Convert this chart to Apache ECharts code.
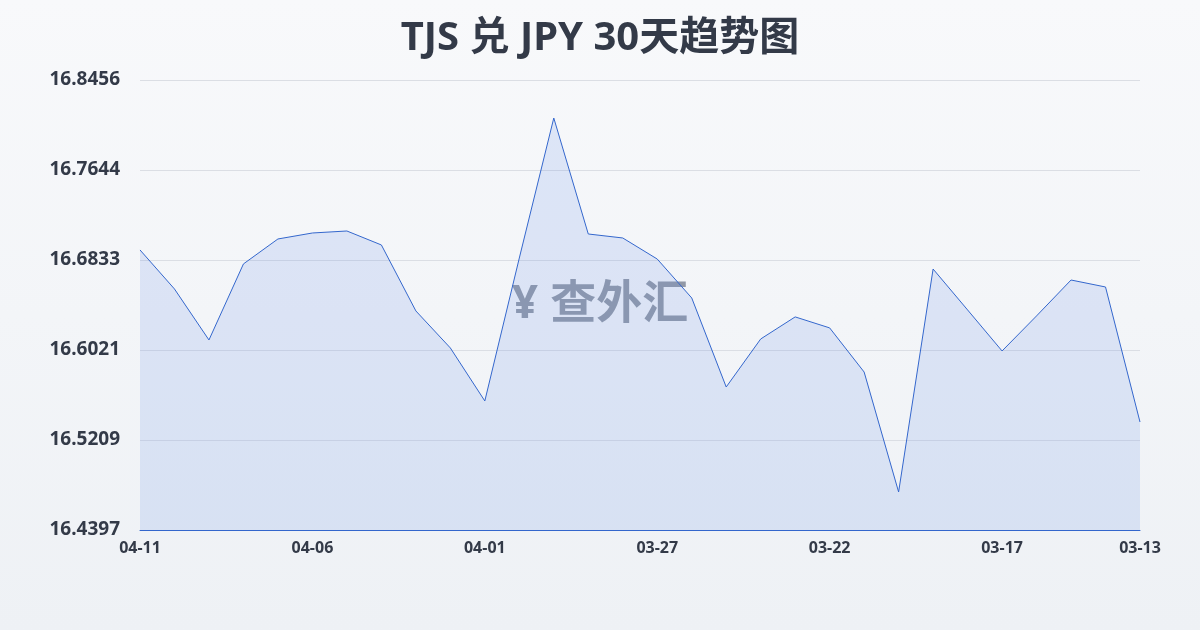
<!DOCTYPE html>
<html>
<head>
<meta charset="UTF-8">
<script src="https://cdn.jsdelivr.net/npm/echarts@6/dist/echarts.min.js"></script>
<style>body{margin:0}#main{width:1200px;height:630px;background:linear-gradient(#f8f9fb,#eef1f5)}</style>
</head>
<body>
<div id="main"></div>
<script>
const dates = ['04-11','04-10','04-09','04-08','04-07','04-06','04-05','04-04','04-03','04-02',
  '04-01','03-31','03-30','03-29','03-28','03-27','03-26','03-25','03-24','03-23',
  '03-22','03-21','03-20','03-19','03-18','03-17','03-16','03-15','03-14','03-13'];
const rates = [16.6923,16.6571,16.6111,16.6797,16.7022,16.7076,16.7094,16.6968,16.6373,16.6039,
  16.5561,16.6850,16.8113,16.7067,16.7031,16.6841,16.6490,16.5687,16.6120,16.6319,
  16.6220,16.5822,16.4740,16.6751,16.6382,16.6012,16.6328,16.6652,16.6589,16.5371];
const yTicks = ['16.4397','16.5209','16.6021','16.6833','16.7644','16.8456'];
const yMin = 16.4397, yMax = 16.8456;
const font = 'Noto Sans, Noto Sans CJK SC, sans-serif';

const chart = echarts.init(document.getElementById('main'));
chart.setOption({
  title: { text: 'TJS 兑 JPY 30天趋势图', left: 'center', top: 14,
    textStyle: { fontSize: 40, fontWeight: 'bold', color: '#333a48', fontFamily: font } },
  grid: { left: 140, right: 60, top: 80, bottom: 100 },
  graphic: [{ type: 'text', left: 'center', top: 282,
    style: { text: '¥ 查外汇', fontSize: 46, fontWeight: 'bold', fill: 'rgba(80,90,110,0.6)', fontFamily: font } }],
  xAxis: { type: 'category', data: dates, boundaryGap: false,
    axisLine: { lineStyle: { color: '#3366cc' } }, axisTick: { show: false },
    axisLabel: { interval: i => i % 5 === 0 || i === 29, color: '#333a48', fontWeight: 'bold', fontSize: 16, margin: 10, fontFamily: font } },
  yAxis: { type: 'value', min: yMin, max: yMax, interval: (yMax - yMin) / 5,
    axisLabel: { formatter: v => yTicks[Math.round((v - yMin) / ((yMax - yMin) / 5))], color: '#333a48', fontWeight: 'bold', fontSize: 19, margin: 20, fontFamily: font } },
  series: [{ type: 'line', data: rates, symbol: 'none',
    lineStyle: { color: '#3366cc', width: 1 },
    areaStyle: { color: 'rgba(110,145,230,0.25)' } }]
});
</script>
</body>
</html>
